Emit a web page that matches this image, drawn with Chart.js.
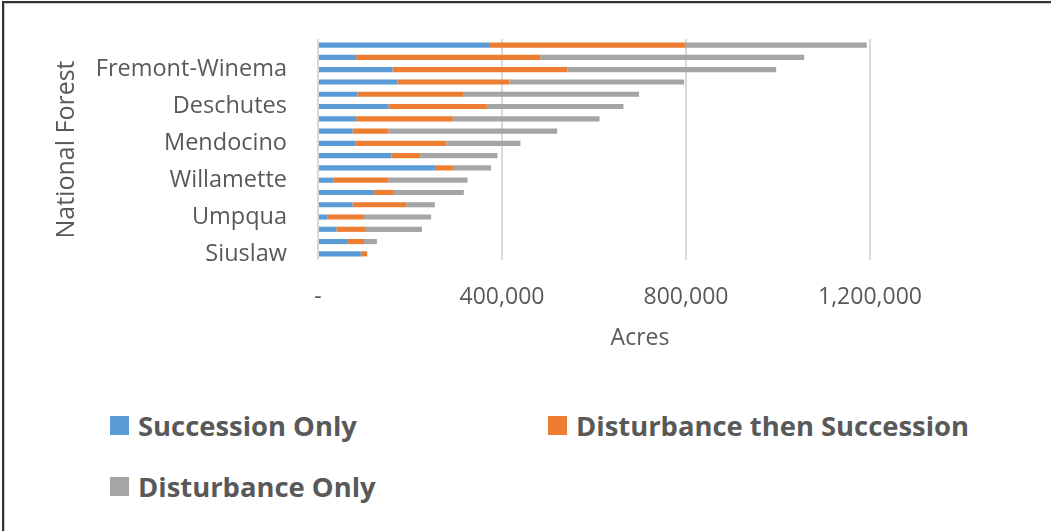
<!DOCTYPE html>
<html>
<head>
<meta charset="utf-8">
<script src="https://cdn.jsdelivr.net/npm/chart.js@4"></script>
<style>
    html, body { margin: 0; padding: 0; background: #fff; }
    #wrap { position: relative; width: 1051px; height: 531px; overflow: hidden; font-family: 'Open Sans', sans-serif; }
    #frame { position: absolute; left: 2px; top: 1px; right: -10px; bottom: -10px; border-top: 2px solid #333; border-left: 2px solid #333; box-shadow: inset 1px 1px 0 #ccc; }
    #forest_chart { position: absolute; left: 0; top: 0; }
    .legend_item { position: absolute; display: flex; align-items: center; color: #595959; font-weight: 700; font-size: 27.4px; white-space: nowrap; }
    .legend_box { width: 19px; height: 19px; margin-right: 9px; }
</style>
</head>
<body>
<div id="wrap">
    <div id="frame"></div>
    <canvas id="forest_chart" width="1051" height="380"></canvas>
    <div id="legend"></div>
</div>
<script>

// rows top -> bottom, only every third one is labelled in the picture
const forests = [
    '', '', 'Fremont-Winema',
    '', '', 'Deschutes',
    '', '', 'Mendocino',
    '', '', 'Willamette',
    '', '', 'Umpqua',
    '', '', 'Siuslaw'
];

const successionOnly = [374000, 83000, 162000, 173000, 86000, 153000, 83000, 75000, 82000, 160000, 254000, 33000, 122000, 75000, 20000, 40000, 65000, 93000];
const disturbanceThenSuccession = [424000, 400000, 380000, 243000, 231000, 214000, 210000, 78000, 197000, 62000, 41000, 120000, 41000, 117000, 80000, 64000, 35000, 14000];
const disturbanceOnly = [395000, 574000, 454000, 380000, 381000, 297000, 319000, 367000, 161000, 168000, 81000, 172000, 154000, 62000, 146000, 122000, 28000, 0];

const acreTicks = [0, 400000, 800000, 1200000];

const seriesNames = ['Succession Only', 'Disturbance then Succession', 'Disturbance Only'];
const seriesColors = ['#5B9BD5', '#ED7D31', '#A5A5A5'];


Chart.defaults.font.family = "'Open Sans', sans-serif";
Chart.defaults.color = '#595959';

forest_chart();
forest_legend();


function forest_chart() {

    const data = {
        labels: forests,
        datasets: [successionOnly, disturbanceThenSuccession, disturbanceOnly].map((values, i) => ({
            label: seriesNames[i],
            data: values,
            backgroundColor: seriesColors[i],
            borderWidth: 0,
            categoryPercentage: 0.7,
            barPercentage: 0.6
        }))
    };

    const config = {
        type: 'bar',
        data: data,
        options: {
            indexAxis: 'y',
            responsive: false,
            animation: false,
            layout: {
                padding: { left: 50, right: 89, top: 39, bottom: 0 }
            },
            plugins: {
                legend: { display: false },
                tooltip: { enabled: false }
            },
            scales: {
                x: {
                    stacked: true,
                    min: 0,
                    max: 1400000,
                    afterBuildTicks: (scale) => {
                        scale.ticks = acreTicks.map(v => ({ value: v }));
                    },
                    afterFit: (scale) => {
                        scale.height = 120;
                        scale.paddingLeft = 0;
                        scale.paddingRight = 0;
                    },
                    ticks: {
                        padding: 24,
                        font: { size: 23 },
                        callback: (value) => value === 0 ? '-' : value.toLocaleString('en-US')
                    },
                    grid: {
                        color: '#D9D9D9',
                        lineWidth: 2,
                        drawTicks: false
                    },
                    border: { display: false },
                    title: {
                        display: true,
                        text: 'Acres',
                        font: { size: 23 },
                        padding: { top: 0, bottom: 28 }
                    }
                },
                y: {
                    stacked: true,
                    afterFit: (scale) => {
                        scale.width = 268;
                        scale.paddingTop = 0;
                        scale.paddingBottom = 0;
                    },
                    ticks: {
                        autoSkip: false,
                        padding: 31,
                        font: { size: 23.5 }
                    },
                    grid: { display: false, drawTicks: false },
                    border: { display: false },
                    title: {
                        display: true,
                        text: 'National Forest',
                        font: { size: 25 },
                        padding: { top: 2, bottom: 0 }
                    }
                }
            }
        }
    };

    const myChart = new Chart(
        document.getElementById('forest_chart'),
        config
    );

}


function forest_legend() {

    // legend sits in two columns like the original, so it is done in html
    const spots = [[110, 427], [548, 427], [110, 488]];
    const legend = document.getElementById('legend');

    seriesNames.forEach((name, i) => {
        const item = document.createElement('div');
        item.className = 'legend_item';
        item.style.left = spots[i][0] + 'px';
        item.style.top = (spots[i][1] - 20) + 'px';
        item.innerHTML = '<span class="legend_box" style="background:' + seriesColors[i] + '"></span>' + name;
        legend.appendChild(item);
    });

}

</script>
</body>
</html>
